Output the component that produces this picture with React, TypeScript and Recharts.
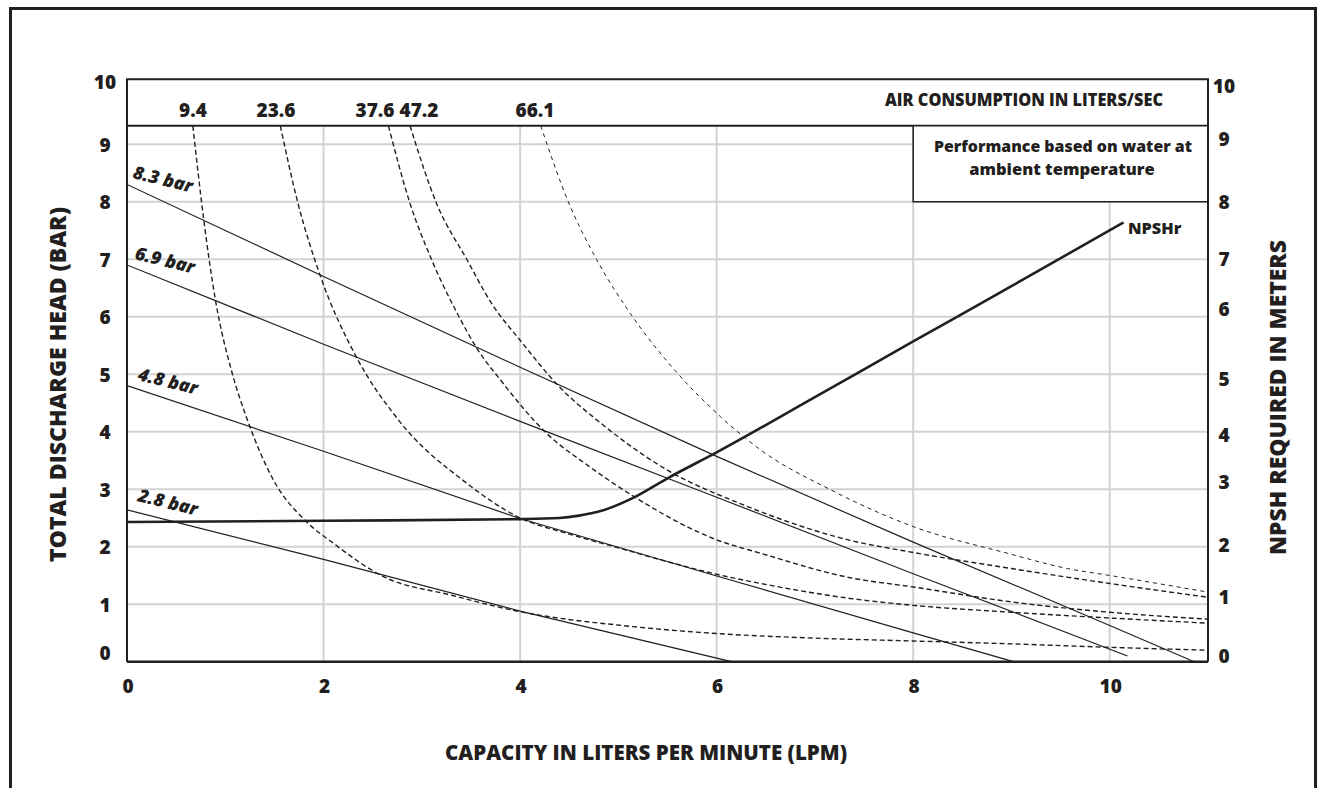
import React from "react";
import { LineChart, Line, XAxis, YAxis, CartesianGrid, ReferenceArea } from "recharts";

const INK = "#231f20";
const GRID = "#d1d3d4";
const FONT = "'Open Sans', 'Liberation Sans', sans-serif";

// axis ticks
const X_TICKS = [0, 2, 4, 6, 8, 10];
const Y_TICKS = [0, 1, 2, 3, 4, 5, 6, 7, 8, 9, 10];

// air inlet pressure lines, [lpm, bar]
const BAR_83 = [[0, 8.3], [2, 6.7], [4, 5.12], [6, 3.57], [8, 2.08], [10, 0.63], [10.86, 0]];
const BAR_69 = [[0, 6.9], [2, 5.52], [4, 4.18], [6, 2.86], [8, 1.53], [10.18, 0.1]];
const BAR_48 = [[0, 4.8], [2, 3.66], [4, 2.49], [6, 1.49], [8, 0.5], [9.02, 0]];
const BAR_28 = [[0, 2.64], [2, 1.78], [4, 0.88], [6.15, 0]];

// air consumption curves (l/s), [lpm, bar]
const AIR_94 = [[0.67, 9.32], [0.78, 7.7], [0.9, 6.29], [1.07, 5.02], [1.22, 4.23], [1.49, 3.16], [1.81, 2.46], [2.1, 2.06], [2.61, 1.48], [3.29, 1.16], [4, 0.87], [5.15, 0.61], [6, 0.49], [7, 0.41], [8, 0.36], [9, 0.31], [10, 0.25], [11, 0.2]];
const AIR_236 = [[1.56, 9.32], [1.74, 7.97], [1.965, 6.72], [2.34, 5.28], [2.75, 4.23], [3.46, 3.1], [4, 2.5], [4.5, 2.22], [5, 1.98], [5.5, 1.74], [6, 1.52], [6.45, 1.36], [7.36, 1.1], [8, 0.98], [9, 0.86], [10, 0.76], [11, 0.67]];
const AIR_376 = [[2.66, 9.32], [2.88, 7.97], [3.1, 6.99], [3.36, 6.06], [3.56, 5.45], [3.8, 4.9], [4.27, 3.97], [4.7, 3.4], [5.16, 2.87], [6, 2.12], [6.45, 1.885], [7.36, 1.46], [8, 1.3], [9, 1.04], [10, 0.86], [11, 0.74]];
const AIR_472 = [[2.88, 9.32], [3.15, 7.97], [3.46, 6.99], [3.71, 6.23], [4, 5.59], [4.4, 4.78], [4.82, 4.15], [5.5, 3.33], [6.24, 2.75], [7.36, 2.11], [8, 1.9], [9, 1.62], [10, 1.36], [11, 1.12]];
const AIR_661 = [[4.21, 9.32], [4.49, 8.0], [4.78, 6.99], [5.12, 6.06], [5.6, 5.02], [6.04, 4.26], [6.45, 3.68], [7.16, 2.99], [8, 2.35], [8.96, 1.885], [9.57, 1.62], [10, 1.5], [11, 1.21]];

// NPSH required, [lpm, m]
const NPSHR = [[0, 2.43], [2, 2.45], [4, 2.48], [4.4, 2.5], [4.6, 2.54], [4.8, 2.61], [5.15, 2.85], [5.5, 3.19], [6, 3.64], [7, 4.6], [8, 5.57], [9, 6.53], [10.14, 7.64]];

const AIR_LABELS = ["9.4", "23.6", "37.6", "47.2", "66.1"];
const BAR_LABELS = ["8.3 bar", "6.9 bar", "4.8 bar", "2.8 bar"];

const pts = (rows: number[][]) => rows.map(([x, y]) => ({ x, y }));

const Y_TOP = 10.13;
const BAND_LOW = 9.32;
const W = 800;

const LeftTick = ({ y, payload }: any) => {
  const v = payload.value;
  const nudge = v === 0 ? -9 : v === 10 ? -4.5 : 0.5;
  return (
    <text x={105} y={y + nudge} dy="0.36em" textAnchor="middle" fill={INK} fontFamily={FONT} fontWeight={W} fontSize={19}>
      {v}
    </text>
  );
};

// the right scale labels are hand placed in the original
const RIGHT_NUDGE: Record<number, number> = { 10: -1, 9: -5.5, 8: 0.5, 7: 0, 6: -7.7, 5: 4.5, 4: 3.5, 3: -7, 2: -2, 1: -7, 0: -6 };
const RightTick = ({ y, payload }: any) => {
  const v = payload.value;
  return (
    <text x={1224} y={y + (RIGHT_NUDGE[v] ?? 0)} dy="0.36em" textAnchor="middle" fill={INK} fontFamily={FONT} fontWeight={W} fontSize={19}>
      {v}
    </text>
  );
};

const BottomTick = ({ x, payload }: any) => (
  <text x={x + 1} y={686} dy="0.36em" textAnchor="middle" fill={INK} fontFamily={FONT} fontWeight={W} fontSize={19}>
    {payload.value}
  </text>
);

const txt = { fill: INK, fontFamily: FONT, fontWeight: W } as const;

export default function App() {
  const airX = [193, 276, 375, 419, 535];
  const barPos = [[163, 179], [165, 260], [168, 381], [168, 502]];
  return (
    <div style={{ position: "fixed", left: 0, top: 0, width: 1319, height: 788, overflow: "hidden", background: "#fff" }}>
      <div style={{ position: "absolute", left: 8.5, top: 6.8, width: 1308, height: 900, boxSizing: "border-box", border: `3.6px solid ${INK}` }} />
      <div style={{ position: "absolute", left: 0, top: 0 }}>
        <LineChart width={1319} height={788} margin={{ top: 79.2, right: 51, bottom: 96.3, left: 67 }}>
          <CartesianGrid stroke={GRID} strokeWidth={2} horizontalValues={Y_TICKS} verticalValues={X_TICKS} yAxisId="left" />
          <XAxis type="number" dataKey="x" domain={[0, 11]} ticks={X_TICKS} allowDataOverflow height={30}
            axisLine={{ stroke: INK, strokeWidth: 2.5 }} tickLine={false} tick={<BottomTick />} />
          <YAxis yAxisId="left" type="number" domain={[0, Y_TOP]} ticks={Y_TICKS} allowDataOverflow width={60}
            axisLine={{ stroke: INK, strokeWidth: 2 }} tickLine={false} tick={<LeftTick />} />
          <YAxis yAxisId="right" orientation="right" type="number" domain={[0, Y_TOP]} ticks={Y_TICKS} allowDataOverflow width={60}
            axisLine={{ stroke: INK, strokeWidth: 2 }} tickLine={false} tick={<RightTick />} />

          <ReferenceArea yAxisId="left" x1={0} x2={11} y1={BAND_LOW} y2={Y_TOP} fill="#fff" fillOpacity={1} stroke={INK} strokeWidth={2} />
          <ReferenceArea yAxisId="left" x1={8} x2={11} y1={8.0} y2={BAND_LOW} fill="#fff" fillOpacity={1} stroke={INK} strokeWidth={1.5} />

          {[BAR_83, BAR_69, BAR_48, BAR_28].map((d, i) => (
            <Line key={"b" + i} yAxisId="left" data={pts(d)} dataKey="y" type="linear" stroke={INK} strokeWidth={1.2}
              dot={false} activeDot={false} isAnimationActive={false} />
          ))}
          {[AIR_94, AIR_236, AIR_376, AIR_472].map((d, i) => (
            <Line key={"a" + i} yAxisId="left" data={pts(d)} dataKey="y" type="monotone" stroke={INK} strokeWidth={1.4}
              strokeDasharray="5 3" dot={false} activeDot={false} isAnimationActive={false} />
          ))}
          <Line yAxisId="left" data={pts(AIR_661)} dataKey="y" type="monotone" stroke={INK} strokeWidth={1}
            strokeDasharray="4 4" dot={false} activeDot={false} isAnimationActive={false} />
          <Line yAxisId="left" data={pts(NPSHR)} dataKey="y" type="monotone" stroke={INK} strokeWidth={2.6}
            dot={false} activeDot={false} isAnimationActive={false} />
        </LineChart>
      </div>
      <svg width={1319} height={788} style={{ position: "absolute", left: 0, top: 0, pointerEvents: "none" }}>
        <text {...txt} fontSize={23.5} textAnchor="middle" transform="translate(58,384.5) rotate(-90)" dy="0.36em"
          textLength={355} lengthAdjust="spacingAndGlyphs">TOTAL DISCHARGE HEAD (BAR)</text>
        <text {...txt} fontSize={23.5} textAnchor="middle" transform="translate(1278,397.5) rotate(-90)" dy="0.36em"
          textLength={315} lengthAdjust="spacingAndGlyphs">NPSH REQUIRED IN METERS</text>
        <text {...txt} fontSize={21.4} textAnchor="middle" x={646} y={752} dy="0.36em"
          textLength={402} lengthAdjust="spacingAndGlyphs">CAPACITY IN LITERS PER MINUTE (LPM)</text>

        <text {...txt} fontSize={17} textAnchor="middle" x={1024} y={100} dy="0.36em"
          textLength={278} lengthAdjust="spacingAndGlyphs">AIR CONSUMPTION IN LITERS/SEC</text>
        {AIR_LABELS.map((s, i) => (
          <text key={s} {...txt} fontSize={19} textAnchor="middle" x={airX[i]} y={110.5} dy="0.36em">{s}</text>
        ))}
        <text {...txt} fontSize={16.5} textAnchor="middle" x={1063} y={146.5} dy="0.36em"
          textLength={258} lengthAdjust="spacingAndGlyphs">Performance based on water at</text>
        <text {...txt} fontSize={16.5} textAnchor="middle" x={1062} y={169} dy="0.36em">ambient temperature</text>
        <text {...txt} fontSize={16.3} x={1128} y={228} dy="0.36em">NPSHr</text>

        {BAR_LABELS.map((s, i) => (
          <text key={s} {...txt} fontSize={18} fontStyle="italic" textAnchor="middle" dy="0.36em"
            transform={`translate(${barPos[i][0]},${barPos[i][1]}) rotate(14)`}>{s}</text>
        ))}
      </svg>
    </div>
  );
}
